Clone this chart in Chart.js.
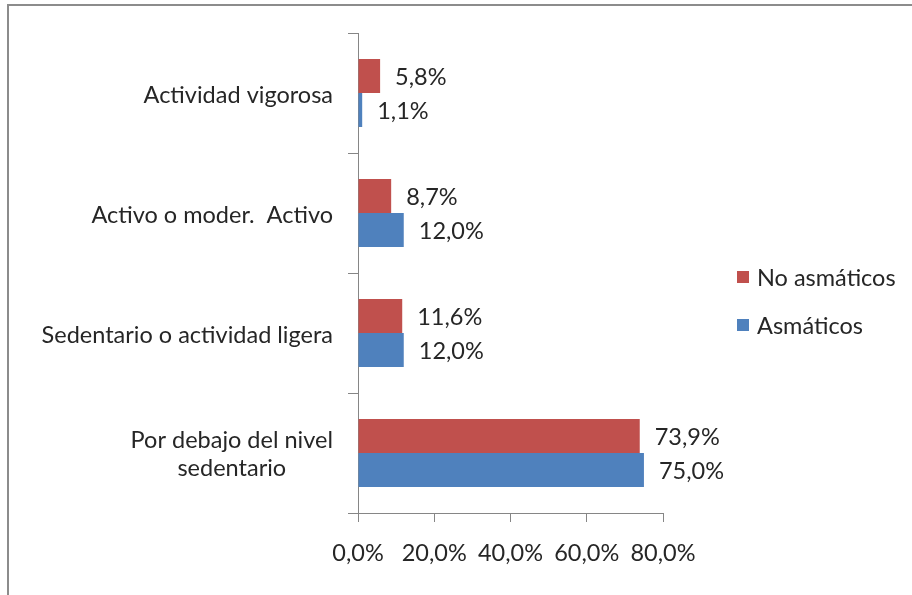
<!DOCTYPE html>
<html>
<head>
<meta charset="utf-8">
<script src="https://cdn.jsdelivr.net/npm/chart.js@4.4.1/dist/chart.umd.min.js"></script>
<style>
html,body{margin:0;padding:0;background:#fff;}
#wrap{position:relative;width:912px;height:595px;overflow:hidden;}
#frame{position:absolute;left:7px;top:4px;width:1000px;height:1000px;border-top:2px solid #8c8c8c;border-left:2px solid #8c8c8c;}
canvas{position:absolute;left:0;top:0;}
</style>
</head>
<body>
<div id="wrap"><div id="frame"></div><canvas id="c" width="912" height="595"></canvas></div>
<script>
const categories = [
  ["Actividad vigorosa"],
  ["Activo o moder.  Activo"],
  ["Sedentario o actividad ligera"],
  ["Por debajo del nivel", "sedentario"]
];
const seriesNames = ["No asmáticos", "Asmáticos"];
const noAsmaticos = [5.8, 8.7, 11.6, 73.9];
const asmaticos = [1.1, 12.0, 12.0, 75.0];
const xTicks = [0, 20, 40, 60, 80];

const FONT = "Lato, 'Open Sans', sans-serif";
const FS = 23.5;
const TXT = "#262626";
const AX = "#868686";
const fmt = v => v.toFixed(1).replace('.', ',') + '%';

const labelsPlugin = {
  id: 'customText',
  afterDraw(chart) {
    const ctx = chart.ctx;
    ctx.save();
    ctx.font = FS + "px " + FONT;
    ctx.fillStyle = TXT;
    // data labels
    chart.data.datasets.forEach((ds, di) => {
      const meta = chart.getDatasetMeta(di);
      meta.data.forEach((el, i) => {
        ctx.textAlign = 'left';
        ctx.textBaseline = 'middle';
        ctx.fillText(fmt(ds.data[i]), el.x + 15, el.y + 1);
      });
    });
    // category labels
    const ys = chart.scales.y;
    categories.forEach((lines, i) => {
      const yc = ys.getPixelForValue(i);
      const lh = 28;
      ctx.textBaseline = 'middle';
      if (lines.length === 1) {
        ctx.textAlign = 'right';
        ctx.fillText(lines[0], 333, yc + 2);
      } else {
        const widths = lines.map(l => ctx.measureText(l).width);
        const maxW = Math.max(...widths);
        const cx = 333 - maxW / 2;
        ctx.textAlign = 'center';
        lines.forEach((l, k) => {
          ctx.fillText(l, cx, yc + 1 + (k - (lines.length - 1) / 2) * lh);
        });
      }
    });
    // legend
    const legY = [277, 325];
    chart.data.datasets.forEach((ds, di) => {
      ctx.fillStyle = ds.backgroundColor;
      ctx.fillRect(737, legY[di] - 6, 12, 12);
      ctx.fillStyle = TXT;
      ctx.textAlign = 'left';
      ctx.textBaseline = 'middle';
      ctx.fillText(ds.label, 757, legY[di] + 1);
    });
    ctx.restore();
  }
};

new Chart(document.getElementById('c'), {
  type: 'bar',
  data: {
    labels: categories.map(c => c.join(' ')),
    datasets: [
      { label: seriesNames[0], data: noAsmaticos, backgroundColor: '#C0504D', borderWidth: 0 },
      { label: seriesNames[1], data: asmaticos, backgroundColor: '#4F81BD', borderWidth: 0 }
    ]
  },
  options: {
    indexAxis: 'y',
    responsive: false,
    animation: false,
    devicePixelRatio: 1,
    layout: { padding: { left: 0, right: 249, top: 33, bottom: 0 } },
    datasets: { bar: { categoryPercentage: 0.567, barPercentage: 1.0 } },
    plugins: { legend: { display: false }, tooltip: { enabled: false } },
    scales: {
      x: {
        min: 0, max: 80,
        afterBuildTicks: s => { s.ticks = xTicks.map(v => ({ value: v })); },
        afterFit: s => { s.height = 82; },
        ticks: { callback: v => fmt(v), color: TXT, font: { family: FONT, size: FS }, padding: 17, maxRotation: 0, autoSkip: false },
        grid: { drawOnChartArea: false, drawTicks: true, tickLength: 9, color: AX },
        border: { display: true, color: AX }
      },
      y: {
        afterFit: s => { s.width = 358; },
        ticks: { display: false },
        grid: { drawOnChartArea: false, drawTicks: true, tickLength: 10, color: AX, offset: true },
        border: { display: true, color: AX }
      }
    }
  },
  plugins: [labelsPlugin]
});
</script>
</body>
</html>
